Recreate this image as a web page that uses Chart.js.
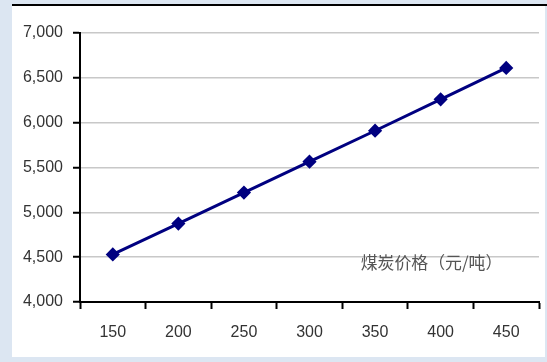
<!DOCTYPE html>
<html>
<head>
<meta charset="utf-8">
<script src="https://cdn.jsdelivr.net/npm/chart.js@4"></script>
<style>
  html, body { margin: 0; padding: 0; background: #dce6f2; }
  #wrap { width: 547px; height: 362px; position: relative; }
</style>
</head>
<body>
<div id="wrap"><canvas id="chart" width="547" height="362"></canvas></div>
<script>
// ==== Data ====
const categories = ["150", "200", "250", "300", "350", "400", "450"];
const costValues = [4530, 4875, 5220, 5565, 5910, 6260, 6610];
const yTicks = [4000, 4500, 5000, 5500, 6000, 6500, 7000];
const noteText = "煤炭价格（元/吨）";

const tickFont = { family: "'Liberation Sans', Arial", size: 16 };

// ==== Panel background + note text ====
const panelPlugin = {
  id: "panel",
  beforeDraw(chart) {
    const ctx = chart.ctx;
    ctx.save();
    ctx.fillStyle = "#dce6f2";
    ctx.fillRect(0, 0, chart.width, chart.height);
    ctx.fillStyle = "#ffffff";
    ctx.fillRect(12, 5, 533, 352);
    ctx.fillStyle = "#000000";
    ctx.fillRect(12, 4, chart.width - 12, 2);
    ctx.restore();
  },
  afterDraw(chart) {
    const { ctx, scales } = chart;
    ctx.save();
    // fit the note to roughly the width it has in the original
    ctx.font = "16px 'Noto Sans CJK SC'";
    const size = Math.min(19, 16 * 142 / ctx.measureText(noteText).width);
    ctx.font = size.toFixed(1) + "px 'Noto Sans CJK SC'";
    ctx.fillStyle = "#555555";
    ctx.textBaseline = "middle";
    ctx.textAlign = "left";
    // sits just under the 4,500 grid line, right side of the plot
    ctx.fillText(noteText, scales.x.getPixelForValue(3.78), scales.y.getPixelForValue(4435));
    ctx.restore();
  }
};

new Chart(document.getElementById("chart"), {
  type: "line",
  data: {
    labels: categories,
    datasets: [{
      data: costValues,
      borderColor: "#000080",
      backgroundColor: "#000080",
      borderWidth: 3,
      pointStyle: "rectRot",
      pointRadius: 5,
      tension: 0
    }]
  },
  options: {
    responsive: false,
    animation: false,
    layout: { padding: { top: 33, right: 2, left: 0, bottom: 0 } },
    plugins: { legend: { display: false }, tooltip: { enabled: false } },
    scales: {
      x: {
        offset: true,
        grid: { offset: true, drawOnChartArea: false, tickLength: 7, tickColor: "#000", tickWidth: 2 },
        border: { color: "#000", width: 2 },
        ticks: { color: "#333", font: tickFont, padding: 14 },
        afterFit: s => { s.height = 60; }
      },
      y: {
        min: 4000,
        max: 7000,
        afterBuildTicks: s => { s.ticks = yTicks.map(v => ({ value: v })); },
        grid: { color: "#c8c8c8", lineWidth: 1.5, tickLength: 7, tickColor: "#000", tickWidth: 2 },
        border: { color: "#000", width: 2 },
        ticks: {
          color: "#333",
          font: tickFont,
          padding: 10,
          callback: v => v.toLocaleString("en-US")
        },
        afterFit: s => { s.width = 80; }
      }
    }
  },
  plugins: [panelPlugin]
});
</script>
</body>
</html>
